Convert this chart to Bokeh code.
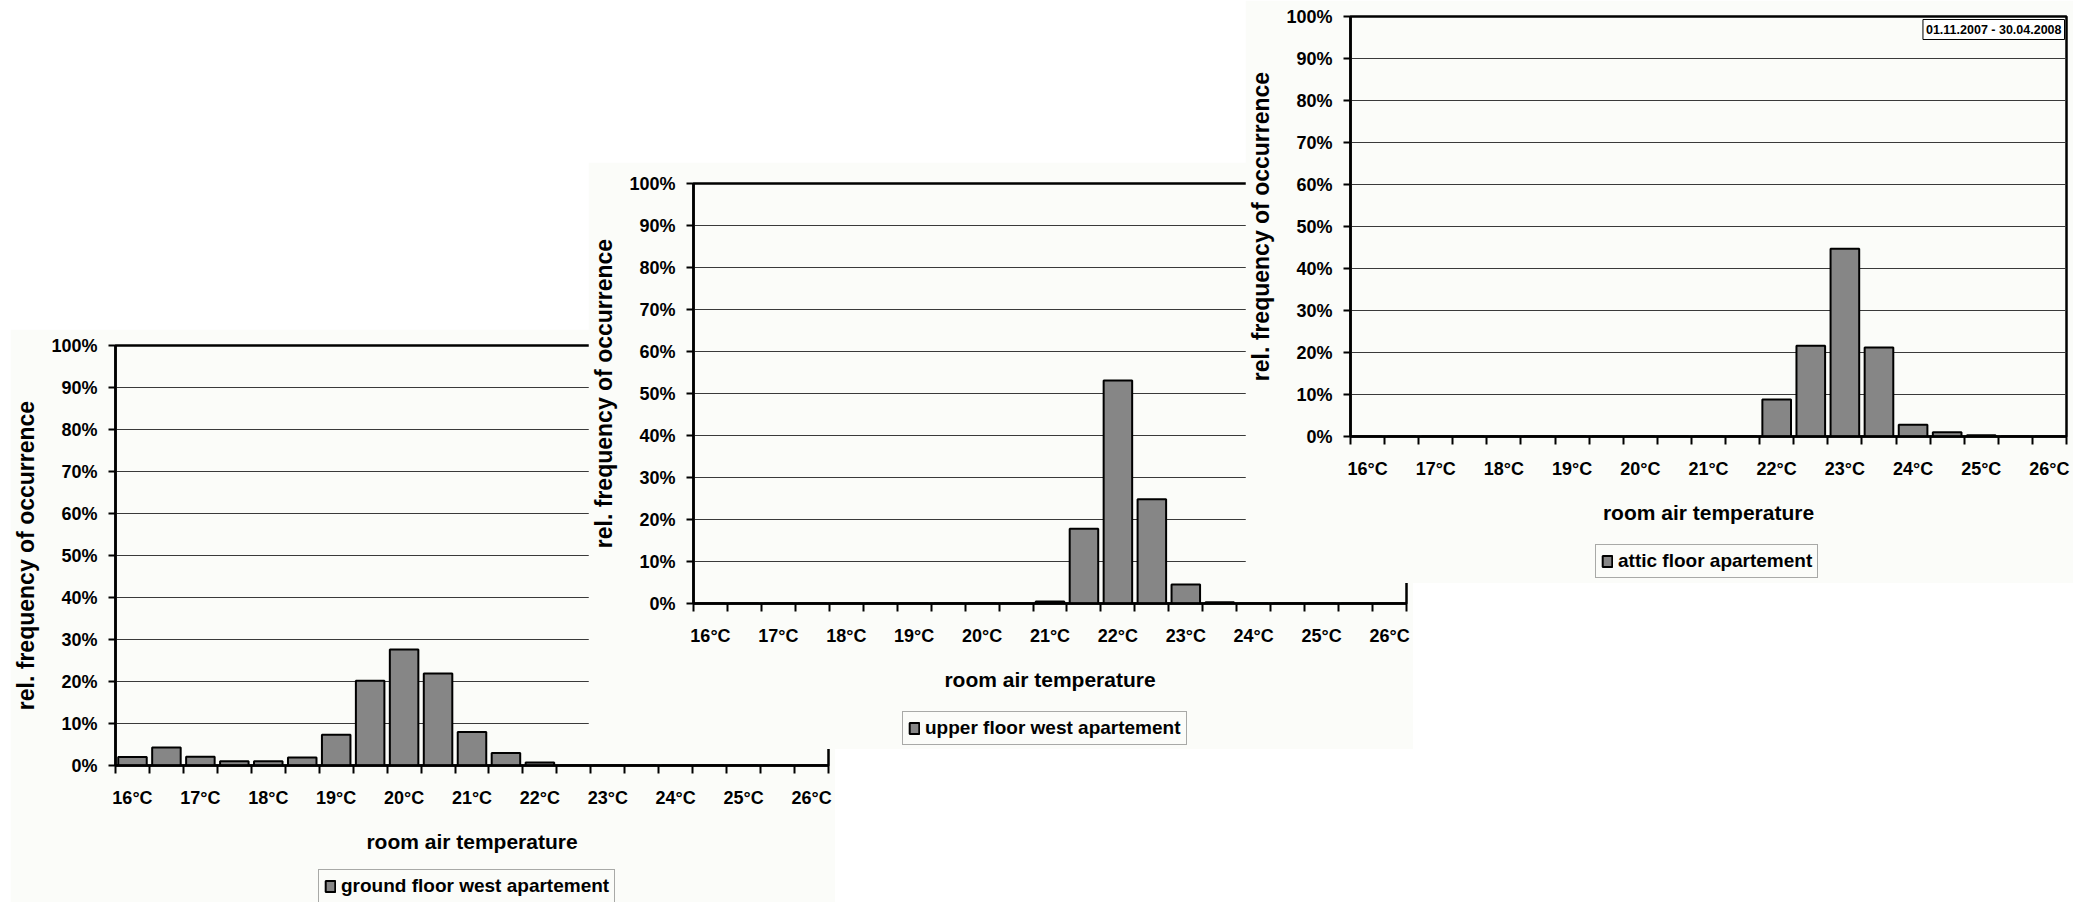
from bokeh.plotting import figure
from bokeh.models import Range1d, FixedTicker, Legend, LegendItem, Label, ColumnDataSource
from bokeh.layouts import column
from bokeh.embed import file_html
from bokeh.resources import INLINE

# ---------------- data ----------------
temperatures = [16.0, 16.5, 17.0, 17.5, 18.0, 18.5, 19.0, 19.5, 20.0, 20.5, 21.0,
                21.5, 22.0, 22.5, 23.0, 23.5, 24.0, 24.5, 25.0, 25.5, 26.0]
ground_floor_west = [2.0, 4.3, 2.1, 1.0, 1.0, 1.9, 7.3, 20.2, 27.6, 21.9, 8.0,
                     3.0, 0.7, 0.0, 0.0, 0.0, 0.0, 0.0, 0.0, 0.0, 0.0]
upper_floor_west = [0.0, 0.0, 0.0, 0.0, 0.0, 0.0, 0.0, 0.0, 0.0, 0.0, 0.5,
                    17.8, 53.1, 24.8, 4.5, 0.3, 0.0, 0.0, 0.0, 0.0, 0.0]
attic_floor = [0.0, 0.0, 0.0, 0.0, 0.0, 0.0, 0.0, 0.0, 0.0, 0.0, 0.0,
               0.0, 8.8, 21.6, 44.7, 21.2, 2.8, 1.0, 0.3, 0.0, 0.0]
series_names = ["ground floor west apartement", "upper floor west apartement", "attic floor apartement"]
x_tick_values = [16, 17, 18, 19, 20, 21, 22, 23, 24, 25, 26]
x_tick_labels = ["16°C", "17°C", "18°C", "19°C", "20°C", "21°C", "22°C", "23°C", "24°C", "25°C", "26°C"]
y_tick_values = [0, 10, 20, 30, 40, 50, 60, 70, 80, 90, 100]
y_tick_labels = ["0%", "10%", "20%", "30%", "40%", "50%", "60%", "70%", "80%", "90%", "100%"]
period_text = "01.11.2007 - 30.04.2008"

# ---------------- style ----------------
FONT = "Liberation Sans"
BG = "#fbfcf9"
BAR_FILL = "#868686"
half = 0.25
bin_edges = [t - half for t in temperatures] + [temperatures[-1] + half]
LEGEND_SHIFT = 105   # horizontal inset of the legend inside its carrier plot


def bar_style():
    return dict(width=0.42, fill_color=BAR_FILL, line_color="black", line_width=2)


def make_chart(src, width, height, left, right, top, bottom, date=False):
    p = figure(width=width, height=height,
               x_range=Range1d(bin_edges[0], bin_edges[-1]), y_range=Range1d(0, 100),
               output_backend="svg", toolbar_location=None,
               min_border_left=left, min_border_right=right,
               min_border_top=top, min_border_bottom=bottom,
               background_fill_color=BG, border_fill_color=BG,
               outline_line_color="black", outline_line_width=2.5)
    p.vbar(x="x", top="y", source=src, **bar_style())

    # grid
    p.xgrid.visible = False
    p.ygrid.ticker = FixedTicker(ticks=y_tick_values)
    p.ygrid.grid_line_color = "#3a3a3a"
    p.ygrid.grid_line_width = 1

    # x axis
    xa = p.xaxis[0]
    xa.ticker = FixedTicker(ticks=x_tick_values, minor_ticks=bin_edges)
    xa.major_label_overrides = {v: lab for v, lab in zip(x_tick_values, x_tick_labels)}
    xa.axis_line_width = 2.5
    xa.axis_line_color = "black"
    xa.major_tick_line_color = None
    xa.major_tick_out = 8
    xa.major_tick_in = 0
    xa.minor_tick_out = 8
    xa.minor_tick_in = 0
    xa.minor_tick_line_width = 2
    xa.minor_tick_line_color = "black"
    xa.major_label_standoff = 14
    xa.major_label_text_font = FONT
    xa.major_label_text_font_style = "bold"
    xa.major_label_text_font_size = "18px"
    xa.major_label_text_color = "black"
    xa.axis_label = "room air temperature"
    xa.axis_label_text_font = FONT
    xa.axis_label_text_font_style = "bold"
    xa.axis_label_text_font_size = "21px"
    xa.axis_label_text_color = "black"
    xa.axis_label_standoff = 19

    # y axis
    ya = p.yaxis[0]
    ya.ticker = FixedTicker(ticks=y_tick_values)
    ya.major_label_overrides = {v: lab for v, lab in zip(y_tick_values, y_tick_labels)}
    ya.axis_line_width = 2.5
    ya.axis_line_color = "black"
    ya.major_tick_out = 7
    ya.major_tick_in = 0
    ya.major_tick_line_width = 2
    ya.minor_tick_line_color = None
    ya.major_label_standoff = 11
    ya.major_label_text_font = FONT
    ya.major_label_text_font_style = "bold"
    ya.major_label_text_font_size = "18px"
    ya.major_label_text_color = "black"
    ya.axis_label = "rel. frequency of occurrence"
    ya.axis_label_text_font = FONT
    ya.axis_label_text_font_style = "bold"
    ya.axis_label_text_font_size = "23px"
    ya.axis_label_text_color = "black"
    ya.axis_label_standoff = 9

    if date:
        lbl = Label(x=bin_edges[-1], y=100, text=period_text,
                    text_align="right", text_baseline="top",
                    x_offset=-2, y_offset=-3,
                    text_font=FONT, text_font_style="bold", text_font_size="12.5px",
                    text_color="black", border_line_color="black", border_line_width=1,
                    background_fill_color="white", padding=3)
        p.add_layout(lbl)
    return p


def make_legend(src, name, width, height):
    # a small transparent plot that only carries the chart's legend box
    lf = figure(width=width, height=height, x_range=Range1d(0, 1), y_range=Range1d(0, 1),
                x_axis_type=None, y_axis_type=None,
                output_backend="svg", toolbar_location=None, min_border=0,
                min_border_left=0, min_border_right=0, min_border_top=0, min_border_bottom=0,
                outline_line_color=None, background_fill_alpha=0, border_fill_alpha=0)
    r = lf.vbar(x="x", top="y", source=src, **bar_style())
    r.visible = False
    legend = Legend(items=[LegendItem(label=name, renderers=[r])],
                    location="top_left", orientation="horizontal",
                    margin=1, padding=5, spacing=0,
                    label_standoff=5, glyph_width=12, glyph_height=14,
                    label_text_font=FONT, label_text_font_style="bold",
                    label_text_font_size="19px", label_text_color="black",
                    border_line_color="#555555", border_line_width=1,
                    background_fill_color=BG, background_fill_alpha=1,
                    inactive_fill_alpha=0)
    lf.add_layout(legend)
    return lf


src1 = ColumnDataSource(dict(x=temperatures, y=ground_floor_west))
src2 = ColumnDataSource(dict(x=temperatures, y=upper_floor_west))
src3 = ColumnDataSource(dict(x=temperatures, y=attic_floor))

p1 = make_chart(src1, 825, 573, 100, 7, 16, 137)
p2 = make_chart(src2, 825, 587, 99, 7, 21, 146)
p3 = make_chart(src3, 828, 583, 104, 7, 16, 147, date=True)

l1 = make_legend(src1, series_names[0], LEGEND_SHIFT + 330, 34)
l2 = make_legend(src2, series_names[1], LEGEND_SHIFT + 320, 40)
l3 = make_legend(src3, series_names[2], LEGEND_SHIFT + 260, 40)

p1.styles = {"position": "absolute", "left": "10px", "top": "329px", "z-index": "1"}
l1.styles = {"position": "absolute", "left": f"{317 - LEGEND_SHIFT}px", "top": "868px", "z-index": "2"}
p2.styles = {"position": "absolute", "left": "588px", "top": "162px", "z-index": "3"}
l2.styles = {"position": "absolute", "left": f"{901 - LEGEND_SHIFT}px", "top": "710px", "z-index": "4"}
p3.styles = {"position": "absolute", "left": "1245px", "top": "0px", "z-index": "5"}
l3.styles = {"position": "absolute", "left": f"{1594 - LEGEND_SHIFT}px", "top": "543px", "z-index": "6"}

layout = column(p1, l1, p2, l2, p3, l3, width=2073, height=902, sizing_mode="fixed")
layout.styles = {"position": "relative", "background-color": "white"}

open("out.html", "w").write(file_html(layout, INLINE))
